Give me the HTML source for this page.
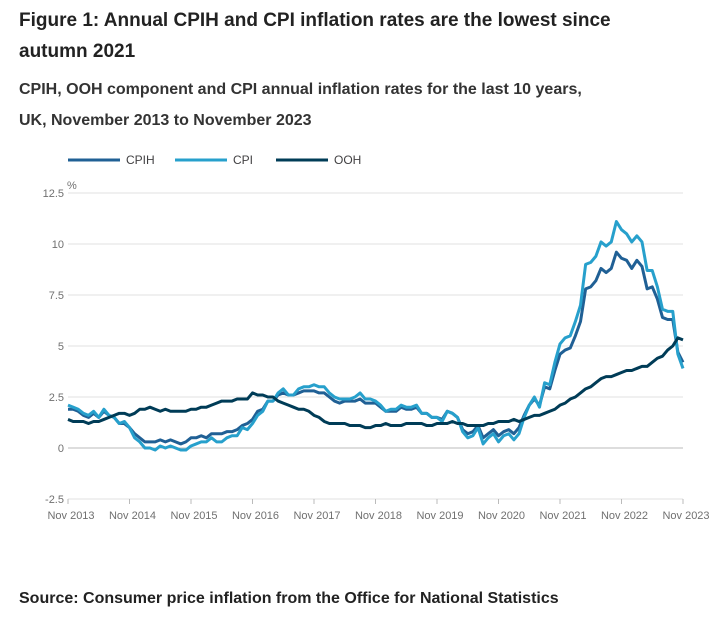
<!DOCTYPE html>
<html><head><meta charset="utf-8"><style>
body{margin:0;background:#fff;font-family:"Liberation Sans",sans-serif;color:#222;overflow:hidden}
.t{position:absolute;left:19px;font-weight:bold;margin:0}
</style></head><body>
<div style="position:relative;width:725px;height:622px;overflow:hidden">
<div class="t" style="top:5px;font-size:19px;line-height:31px">Figure 1: Annual CPIH and CPI inflation rates are the lowest since<br>autumn 2021</div>
<div class="t" style="top:74px;font-size:16px;line-height:31px;color:#333">CPIH, OOH component and CPI annual inflation rates for the last 10 years,<br>UK, November 2013 to November 2023</div>
<svg id="chart" width="725" height="482" style="position:absolute;left:0;top:140px" font-family="Liberation Sans, sans-serif"></svg>
<div class="t" style="top:590px;font-size:16px">Source: Consumer price inflation from the Office for National Statistics</div>
</div>
<script>
const xLabels=["Nov 2013","Nov 2014","Nov 2015","Nov 2016","Nov 2017","Nov 2018","Nov 2019","Nov 2020","Nov 2021","Nov 2022","Nov 2023"];
const yTicks=[-2.5,0,2.5,5,7.5,10,12.5];
const yTickLabels=["-2.5","0","2.5","5","7.5","10","12.5"];
const cpih=[1.9,1.9,1.8,1.6,1.5,1.7,1.5,1.8,1.6,1.5,1.2,1.2,1.0,0.7,0.5,0.3,0.3,0.3,0.4,0.3,0.4,0.3,0.2,0.3,0.5,0.5,0.6,0.5,0.7,0.7,0.7,0.8,0.8,0.9,1.1,1.2,1.4,1.8,1.9,2.3,2.3,2.6,2.7,2.6,2.6,2.7,2.8,2.8,2.8,2.7,2.7,2.5,2.3,2.2,2.3,2.3,2.3,2.4,2.2,2.2,2.2,2.0,1.8,1.8,1.8,2.0,1.9,1.9,2.0,1.7,1.7,1.5,1.5,1.4,1.8,1.7,1.5,0.9,0.7,0.8,1.1,0.5,0.7,0.9,0.6,0.8,0.9,0.7,1.0,1.6,2.1,2.4,2.1,3.0,2.9,3.8,4.6,4.8,4.9,5.5,6.2,7.8,7.9,8.2,8.8,8.6,8.8,9.6,9.3,9.2,8.8,9.2,8.9,7.8,7.9,7.3,6.4,6.3,6.3,4.7,4.2];
const cpi=[2.1,2.0,1.9,1.7,1.6,1.8,1.5,1.9,1.6,1.5,1.2,1.3,1.0,0.5,0.3,0.0,0.0,-0.1,0.1,0.0,0.1,0.0,-0.1,-0.1,0.1,0.2,0.3,0.3,0.5,0.3,0.3,0.5,0.6,0.6,1.0,0.9,1.2,1.6,1.8,2.3,2.3,2.7,2.9,2.6,2.6,2.9,3.0,3.0,3.1,3.0,3.0,2.7,2.5,2.4,2.4,2.4,2.5,2.7,2.4,2.4,2.3,2.1,1.8,1.9,1.9,2.1,2.0,2.0,2.1,1.7,1.7,1.5,1.5,1.3,1.8,1.7,1.5,0.8,0.5,0.6,1.0,0.2,0.5,0.7,0.3,0.6,0.7,0.4,0.7,1.5,2.1,2.5,2.0,3.2,3.1,4.2,5.1,5.4,5.5,6.2,7.0,9.0,9.1,9.4,10.1,9.9,10.1,11.1,10.7,10.5,10.1,10.4,10.1,8.7,8.7,7.9,6.8,6.7,6.7,4.6,3.9];
const ooh=[1.4,1.3,1.3,1.3,1.2,1.3,1.3,1.4,1.5,1.6,1.7,1.7,1.6,1.7,1.9,1.9,2.0,1.9,1.8,1.9,1.8,1.8,1.8,1.8,1.9,1.9,2.0,2.0,2.1,2.2,2.3,2.3,2.3,2.4,2.4,2.4,2.7,2.6,2.6,2.5,2.5,2.3,2.2,2.1,2.0,1.9,1.9,1.8,1.6,1.5,1.3,1.2,1.2,1.2,1.2,1.1,1.1,1.1,1.0,1.0,1.1,1.1,1.2,1.1,1.1,1.1,1.2,1.2,1.2,1.2,1.1,1.1,1.2,1.2,1.2,1.3,1.2,1.2,1.1,1.1,1.1,1.1,1.2,1.2,1.3,1.3,1.3,1.4,1.3,1.4,1.5,1.6,1.6,1.7,1.8,1.9,2.1,2.2,2.4,2.5,2.7,2.9,3.0,3.2,3.4,3.5,3.5,3.6,3.7,3.8,3.8,3.9,4.0,4.0,4.2,4.4,4.5,4.8,5.0,5.4,5.3];
const seriesNames=["CPIH","CPI","OOH"];
const seriesColors=["#206095","#27a0cc","#003c57"];
const NS="http://www.w3.org/2000/svg";
const svg=document.getElementById('chart');
const X0=68,X1=683,Y0=308,PX=20.4;
const x=i=>X0+(X1-X0)*i/(cpi.length-1);
const y=v=>Y0-v*PX;
function mk(t,a){const e=document.createElementNS(NS,t);for(const k in a)e.setAttribute(k,a[k]);svg.appendChild(e);return e;}
yTicks.forEach((v,i)=>{
 const g=mk('line',{x1:X0,x2:X1,y1:y(v),y2:y(v),stroke:v===0?'#bbb':'#e2e2e2','stroke-width':1});
 
 
 const t=mk('text',{x:64,y:y(v)+4,'text-anchor':'end','font-size':11,fill:'#707070'});
 t.textContent=yTickLabels[i];
 
 
});
const pct=mk('text',{x:67,y:y(12.5)-4,'font-size':11,fill:'#707070'});pct.textContent='%';


xLabels.forEach((l,i)=>{
 const xi=X0+(X1-X0)*i/(xLabels.length-1);
 const tk=mk('line',{x1:xi,x2:xi,y1:y(-2.5),y2:y(-2.5)+5,stroke:'#bbb'});
 
 
 const t=mk('text',{x:xi+3,y:y(-2.5)+20,'text-anchor':'middle','font-size':11,fill:'#707070'});
 t.textContent=l;
 
 
});
[cpih,cpi,ooh].forEach((d,s)=>{
 const p=mk('polyline',{points:d.map((v,i)=>x(i)+','+y(v)).join(' '),fill:'none',stroke:seriesColors[s],'stroke-width':3,'stroke-linejoin':'round'});
 
 
});
const lx=[68,175,276];
seriesNames.forEach((n,s)=>{
 const l=mk('line',{x1:lx[s],x2:lx[s]+52,y1:20,y2:20,stroke:seriesColors[s],'stroke-width':3});
 
 
 const t=mk('text',{x:lx[s]+58,y:24,'font-size':12,fill:'#414042'});
 t.textContent=n;
 
 
});
</script>
</body></html>
